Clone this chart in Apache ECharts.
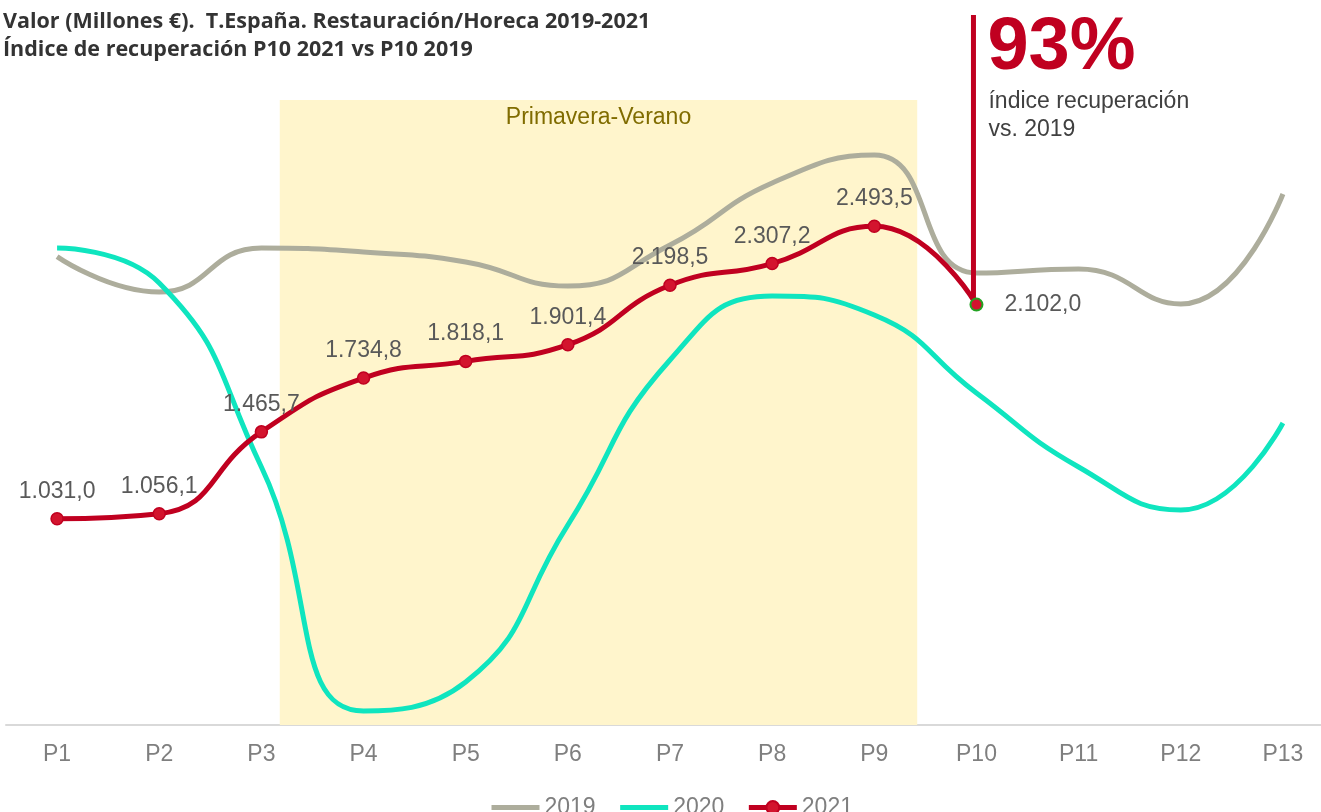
<!DOCTYPE html>
<html>
<head>
<meta charset="utf-8">
<script src="https://cdn.jsdelivr.net/npm/echarts@6/dist/echarts.min.js"></script>
<style>
html, body { margin: 0; padding: 0; background: #fff; }
#chart { width: 1321px; height: 812px; }
</style>
</head>
<body>
<div id="chart"></div>
<script>
var periods = ['P1', 'P2', 'P3', 'P4', 'P5', 'P6', 'P7', 'P8', 'P9', 'P10', 'P11', 'P12', 'P13'];
var values2019 = [2342, 2165, 2385, 2365, 2315, 2195, 2400, 2710, 2850, 2260, 2280, 2105, 2655];
var values2020 = [2385, 2210, 1290, 70, 215, 1000, 1825, 2145, 2050, 1660, 1290, 1075, 1510];
var values2021 = [1031.0, 1056.1, 1465.7, 1734.8, 1818.1, 1901.4, 2198.5, 2307.2, 2493.5, 2102.0];
// seasonal band, in category index units (P1 = 0)
var bandRange = [2.18, 8.42];
var bandLabel = 'Primavera-Verano';
var yMax = 3125;
var calloutTop = 3550;
var calloutPct = '93%';
var calloutText = 'índice recuperación\nvs. 2019';

var RED = '#C00020';
var font = '"Liberation Sans", Arial, sans-serif';

function fmtEs(v) {
    var parts = v.toFixed(1).split('.');
    return parts[0].replace(/\B(?=(\d{3})+(?!\d))/g, '.') + ',' + parts[1];
}

var myChart = echarts.init(document.getElementById('chart'));

var last = values2021.length - 1;
var data2021 = values2021.map(function(v, i) {
    if (i === last) {
        return {
            value: v,
            itemStyle: { borderColor: '#22A322', borderWidth: 2 },
            label: { position: 'right', distance: 21 }
        };
    }
    return v;
});

var noSymbol = { color: 'rgba(0,0,0,0)', borderWidth: 0 };

myChart.setOption({
    animation: false,
    title: {
        text: 'Valor (Millones €).  T.España. Restauración/Horeca 2019-2021\nÍndice de recuperación P10 2021 vs P10 2019',
        left: -2,
        top: 3,
        textStyle: {
            fontFamily: '"Open Sans", sans-serif',
            fontWeight: 'bold',
            fontSize: 21.5,
            lineHeight: 28,
            color: '#333333'
        }
    },
    legend: {
        data: [
            { name: '2019', itemStyle: noSymbol, lineStyle: { width: 5 } },
            { name: '2020', itemStyle: noSymbol, lineStyle: { width: 5 } },
            { name: '2021', lineStyle: { width: 5 } }
        ],
        left: 484,
        top: 791,
        itemWidth: 48,
        itemHeight: 16,
        itemGap: 22,
        textStyle: { fontFamily: font, fontSize: 23, color: '#7F7F7F' }
    },
    grid: { left: 6, right: -13, top: 100, bottom: 87, outerBoundsMode: 'none', containLabel: false },
    xAxis: [{
        type: 'category',
        data: periods,
        axisLine: { lineStyle: { color: '#D9D9D9', width: 2 } },
        axisTick: { show: false },
        axisLabel: { fontFamily: font, fontSize: 23, color: '#7F7F7F', margin: 18 }
    }, {
        type: 'value',
        min: -0.5,
        max: 12.5,
        show: false
    }],
    yAxis: {
        type: 'value',
        min: 0,
        max: yMax,
        show: false,
        splitLine: { show: false }
    },
    series: [{
        name: 'band',
        type: 'line',
        xAxisIndex: 1,
        data: [[bandRange[0], 0], [bandRange[1], 0]],
        symbol: 'none',
        silent: true,
        lineStyle: { width: 0 },
        z: 0,
        markArea: {
            silent: true,
            itemStyle: { color: '#FFF5CC' },
            label: {
                show: true,
                position: 'insideTop',
                distance: 6,
                fontFamily: font,
                fontSize: 23,
                color: '#806C00'
            },
            data: [[
                { name: bandLabel, xAxis: bandRange[0], yAxis: 0 },
                { xAxis: bandRange[1], yAxis: yMax }
            ]]
        }
    }, {
        name: '2019',
        type: 'line',
        data: values2019,
        smooth: 0.5,
        symbol: 'none',
        lineStyle: { color: '#ADAD9C', width: 5 },
        itemStyle: { color: '#ADAD9C' }
    }, {
        name: '2020',
        type: 'line',
        data: values2020,
        smooth: 0.5,
        symbol: 'none',
        lineStyle: { color: '#0FE5BF', width: 5 },
        itemStyle: { color: '#0FE5BF' }
    }, {
        name: '2021',
        type: 'line',
        data: data2021,
        smooth: 0.5,
        symbol: 'circle',
        symbolSize: 12,
        lineStyle: { color: RED, width: 5 },
        itemStyle: { color: '#D3142E', borderColor: '#C00020', borderWidth: 1.5 },
        label: {
            show: true,
            position: 'top',
            distance: 9,
            fontFamily: font,
            fontSize: 23,
            color: '#595959',
            formatter: function(p) { return fmtEs(p.value); }
        },
        z: 5
    }]
});

// callout line + recovery index, anchored on the P10 2021 point
var pt = myChart.convertToPixel({ xAxisIndex: 0, yAxisIndex: 0 }, [periods[last], values2021[last]]);
var tp = myChart.convertToPixel({ xAxisIndex: 0, yAxisIndex: 0 }, [periods[last], calloutTop]);

myChart.setOption({
    graphic: [{
        type: 'line',
        z: 4,
        shape: { x1: pt[0] - 3, y1: pt[1], x2: pt[0] - 3, y2: tp[1] },
        style: { stroke: RED, lineWidth: 5 }
    }, {
        type: 'text',
        x: pt[0] + 11,
        y: tp[1] - 3,
        style: {
            text: calloutPct,
            font: 'bold 74px ' + font,
            fill: RED,
            verticalAlign: 'top'
        }
    }, {
        type: 'text',
        x: pt[0] + 12,
        y: tp[1] + 73,
        style: {
            text: calloutText,
            font: '23px ' + font,
            lineHeight: 28,
            fill: '#404040',
            verticalAlign: 'top'
        }
    }]
});
</script>
</body>
</html>
